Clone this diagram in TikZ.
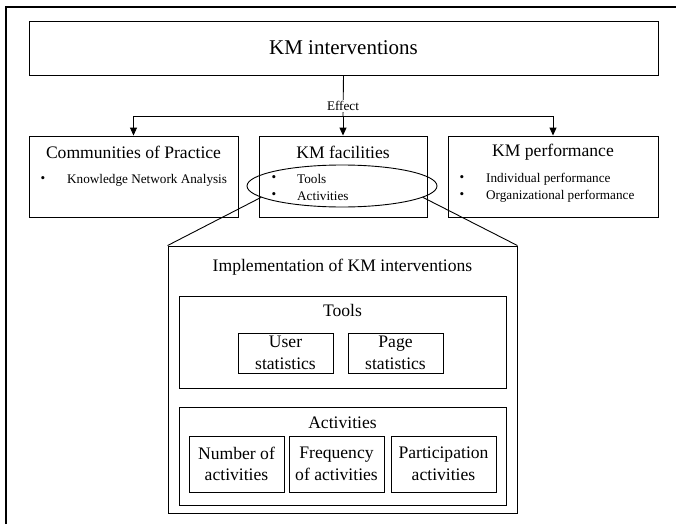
\documentclass[tikz,border=0pt]{standalone}
\usepackage{fontspec}
\setmainfont{Liberation Serif}
\usetikzlibrary{calc,shapes.geometric,arrows.meta}

\begin{document}
\begin{tikzpicture}[x=1pt, y=-1pt,
    box/.style={draw, line width=0.9pt, inner sep=0pt},
    big/.style={font=\fontsize{21}{25}\selectfont},
    mid/.style={font=\fontsize{17.6}{21.5}\selectfont, align=center},
    small/.style={font=\fontsize{13.2}{16}\selectfont, inner sep=0pt},
    link/.style={line width=0.9pt},
    effectarrow/.style={line width=0.9pt, -{Triangle[length=8pt,width=7pt]}}]

    \useasboundingbox (0,0) rectangle (676,524);
    \path[draw, line width=2.2pt] (6,524) -- (6,7) -- (676,7);

    % top box and the three effects
    \node[box, big, minimum width=629pt, minimum height=54pt] (kmi) at (343.5,48) {KM interventions};

    \node[box, minimum width=209pt, minimum height=81pt] (cop) at (133.5,176.5) {};
    \node[box, minimum width=168pt, minimum height=81pt] (fac) at (343,176.5) {};
    \node[box, minimum width=210pt, minimum height=81pt] (perf) at (553,176.5) {};

    \node[mid] (coptitle) at (133.5,152) {Communities of Practice};
    \node[mid] (factitle) at (343,152) {KM facilities};
    \node[mid] (perftitle) at (553,152) {KM performance};

    \coordinate (split) at (343,116);
    \coordinate (splitl) at (133.5,116);
    \coordinate (splitr) at (553,116);

    \path[draw, link] (kmi.south) -- (split);
    \path[draw, link] (splitl) -- (splitr);
    \node[small, fill=white, inner sep=1.5pt] (effect) at (343,106) {Effect};
    \path[draw, effectarrow] (splitl) -- (cop.north);
    \path[draw, effectarrow] (split) -- (fac.north);
    \path[draw, effectarrow] (splitr) -- (perf.north);

    % bullet lists
    \node[small] (b1) at (43,180) {\textbullet};
    \node[small, anchor=west] (knowledge) at (67,180) {Knowledge Network Analysis};

    \node[small] (b2) at (274,179) {\textbullet};
    \node[small, anchor=west] (tools) at (297,179) {Tools};
    \node[small] (b3) at (274,196) {\textbullet};
    \node[small, anchor=west] (activities) at (297,196) {Activities};

    \node[small] (b4) at (462,179) {\textbullet};
    \node[small, anchor=west] (indiv) at (486,179) {Individual performance};
    \node[small] (b5) at (462,196) {\textbullet};
    \node[small, anchor=west] (organ) at (486,196) {Organizational performance};

    \node[draw, ellipse, line width=0.9pt, minimum width=190pt, minimum height=42pt, inner sep=0pt] (focus) at (342,186) {};

    % zoomed-in implementation
    \node[box, minimum width=349pt, minimum height=267pt] (impl) at (342.5,379.5) {};
    \node[mid] (impltitle) at (342.5,267) {Implementation of KM interventions};

    \path[draw, link] (focus.188) -- (impl.north west);
    \path[draw, link] (focus.352) -- (impl.north east);

    \node[box, minimum width=327pt, minimum height=92pt] (toolbox) at (342.5,342) {};
    \node[mid] (tooltitle) at (342.5,310) {Tools};
    \node[box, mid, minimum width=95pt, minimum height=40pt] (user) at (285.5,353) {User\\statistics};
    \node[box, mid, minimum width=95pt, minimum height=40pt] (page) at (395.5,353) {Page\\statistics};

    \node[box, minimum width=327pt, minimum height=98pt] (actbox) at (342.5,456) {};
    \node[mid] (acttitle) at (342.5,423) {Activities};
    \node[box, mid, minimum width=95pt, minimum height=56pt] (number) at (236.5,464) {Number of\\activities};
    \node[box, mid, minimum width=95pt, minimum height=56pt] (freq) at (336.5,464) {Frequency\\of activities};
    \node[box, mid, minimum width=105pt, minimum height=56pt] (partic) at (443.5,464) {Participation\\activities};

\end{tikzpicture}
\end{document}
